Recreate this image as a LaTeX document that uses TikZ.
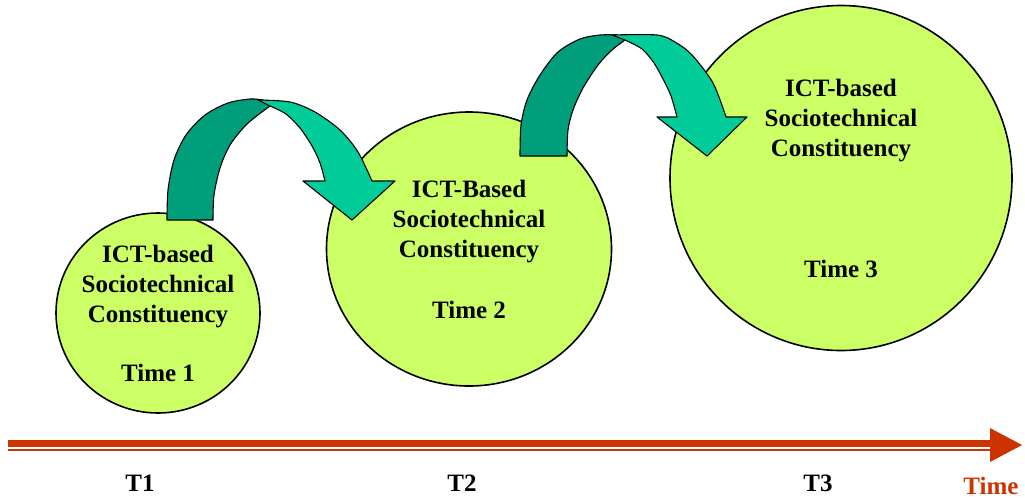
\documentclass[tikz,border=0pt]{standalone}
\usepackage{fontspec}
\setmainfont{Liberation Serif}
\usepackage{tikz}
\usetikzlibrary{shapes.geometric,positioning}

\definecolor{limefill}{HTML}{CCFF66}
\definecolor{darkteal}{HTML}{009E7A}
\definecolor{lightteal}{HTML}{00CC99}
\definecolor{timered}{HTML}{CC3300}

\begin{document}
\begin{tikzpicture}[x=1pt,y=-1pt,
        phase/.style={ellipse,draw=black,line width=1.6pt,fill=limefill,inner sep=0pt},
        caption/.style={align=center,font=\fontsize{25}{30}\selectfont\bfseries},
        tlabel/.style={anchor=base,font=\fontsize{25}{30}\selectfont\bfseries},
        backband/.style={fill=darkteal,draw=black,line width=1.1pt,line join=round},
        frontband/.style={fill=lightteal,draw=black,line width=1.1pt,line join=round}]
    \useasboundingbox (0,0) rectangle (1025,499);

    % the three constituencies
    \node[phase,minimum width=204pt,minimum height=200pt] (c1) at (158,313) {};
    \node[phase,minimum width=285pt,minimum height=274pt] (c2) at (469,249) {};
    \node[phase,minimum width=342pt,minimum height=345pt] (c3) at (841,178) {};

    \node[caption] (txt1) at (c1) {ICT-based\\Sociotechnical\\Constituency\\[29pt]Time 1};
    \node[caption] (txt2) at (c2) {ICT-Based\\Sociotechnical\\Constituency\\[31pt]Time 2};
    \node[caption] (txt3) at (c3) {ICT-based\\Sociotechnical\\Constituency\\[91pt]Time 3};

    % curved arrow from time 1 to time 2
    \filldraw[backband] plot[smooth] coordinates {(213,220) (214,195) (220,168) (230,145) (247,124) (270,106)}
        -- plot[smooth] coordinates {(263,100) (250,99) (228,103) (205,115) (186,135) (174,160) (168,190) (167,220)} -- cycle;
    \filldraw[frontband] plot[smooth] coordinates {(258,100) (290,102) (315,112) (340,130) (358,152) (372,181)}
        -- (395,181) -- (352,220) -- (303,181) -- (325,181)
        -- plot[smooth] coordinates {(325,181) (320,163) (312,146) (300,128) (286,114) (270,106)} -- cycle;

    % curved arrow from time 2 to time 3
    \filldraw[backband] plot[smooth] coordinates {(567,156) (568,130) (573,110) (583,88) (598,65) (612,50) (625,40)}
        -- plot[smooth] coordinates {(617,35) (600,35) (580,39) (558,52) (540,75) (527,100) (521,125) (520,156)} -- cycle;
    \filldraw[frontband] plot[smooth] coordinates {(612,35) (657,35) (675,42) (692,55) (713,83) (726,117)}
        -- (747,117) -- (707,156) -- (657,117) -- (677,117)
        -- plot[smooth] coordinates {(677,117) (671,96) (663,79) (654,63) (642,49) (625,40)} -- cycle;

    % time axis
    \coordinate (axisstart) at (8,445);
    \coordinate (axisend) at (1022,445);
    \fill[timered] (axisstart) ++(0,-5) rectangle (990,446.5);
    \fill[timered] (8,448.5) rectangle (990,450.5);
    \fill[timered] (990,428) -- (axisend) -- (990,462) -- cycle;

    \node[tlabel] (t1) at (140,491) {T1};
    \node[tlabel] (t2) at (462,491) {T2};
    \node[tlabel] (t3) at (818,491) {T3};
    \node[tlabel,text=timered] (tm) at (991,494) {Time};
\end{tikzpicture}
\end{document}
